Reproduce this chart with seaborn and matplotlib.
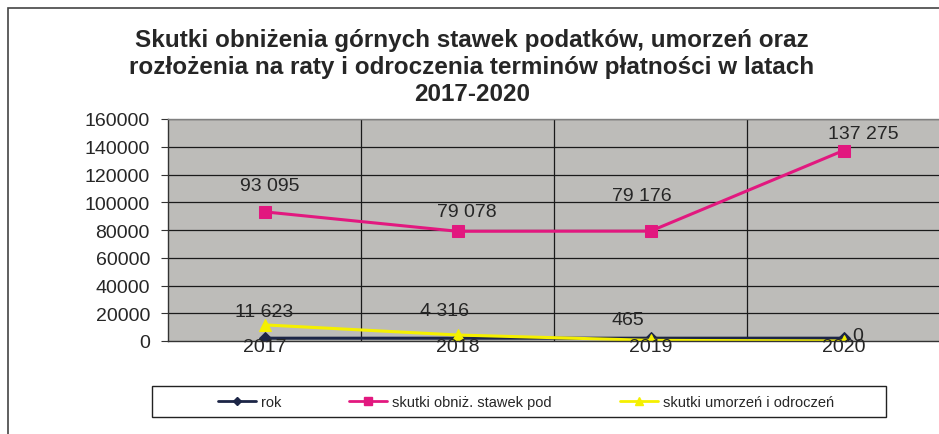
import numpy as np
import pandas as pd
import matplotlib
matplotlib.use("Agg")
import matplotlib.pyplot as plt
from matplotlib.lines import Line2D
from matplotlib.patches import Rectangle
import seaborn as sns

# --- dane ---
lata = [2017, 2018, 2019, 2020]
rok = [2017, 2018, 2019, 2020]
obnizenie = [93095, 79078, 79176, 137275]
umorzenia = [11623, 4316, 465, 0]

serie = ["rok", "skutki obniż. stawek pod", "skutki umorzeń i odroczeń"]
kolory = ["#1c2546", "#e2187f", "#f5f000"]
markery = ["D", "s", "^"]

df = pd.DataFrame({
    "rok_x": lata * 3,
    "wartosc": rok + obnizenie + umorzenia,
    "seria": [serie[0]] * 4 + [serie[1]] * 4 + [serie[2]] * 4,
})


def fmt(v):
    return f"{v:,}".replace(",", " ")


sns.set_style("white")
plt.rcParams["font.family"] = ["Liberation Sans", "DejaVu Sans"]

fig = plt.figure(figsize=(9.39, 4.35), dpi=100)
ax = fig.add_axes([168 / 939, 1 - 342 / 435, 772 / 939, 222 / 435])
ax.set_facecolor("#bdbcb9")

for s, c, m, ms in zip(serie, kolory, markery, [6, 9, 9]):
    sub = df[df["seria"] == s]
    sns.lineplot(data=sub, x="rok_x", y="wartosc", ax=ax, color=c, marker=m,
                 markersize=ms, markeredgecolor=c, linewidth=2.2, legend=False)

ax.set_xlim(2016.5, 2020.5)
ax.set_ylim(0, 160000)
ax.set_yticks(np.arange(0, 160001, 20000))
ax.set_xticks([])
ax.set_xlabel("")
ax.set_ylabel("")
ax.tick_params(axis="y", labelsize=14, length=5, width=0.8, color="#333333", pad=8, left=True)
for y in np.arange(20000, 160001, 20000):
    ax.axhline(y, color="#1a1a1a", lw=0.9, zorder=0.5)
for x in [2017.5, 2018.5, 2019.5]:
    ax.axvline(x, color="#1a1a1a", lw=0.9, zorder=0.5)
for sp in ax.spines.values():
    sp.set_visible(True)
    sp.set_color("#808080")
    sp.set_linewidth(1)
ax.spines["left"].set_color("#333333")
ax.spines["bottom"].set_color("#333333")

# etykiety danych (przesunięcia w punktach)
off_obn = [(3.5, 19), (7, 14.5), (-6, 26), (14, 12)]
for x, v, (dx, dy) in zip(lata, obnizenie, off_obn):
    ax.annotate(fmt(v), (x, v), xytext=(dx, dy), textcoords="offset points",
                ha="center", va="center", fontsize=14)
off_um = [(0, 9.5), (-9, 18), (-16.5, 15), (10, 3.6)]
for x, v, (dx, dy) in zip(lata, umorzenia, off_um):
    ax.annotate(fmt(v), (x, v), xytext=(dx, dy), textcoords="offset points",
                ha="center", va="center", fontsize=14)
for x, v in zip(lata, rok):
    ax.annotate(str(v), (x, v), xytext=(0, -6), textcoords="offset points",
                ha="center", va="center", fontsize=14, annotation_clip=False)

fig.text(472 / 939, 1 - 67.5 / 435,
         "Skutki obniżenia górnych stawek podatków, umorzeń oraz\n"
         "rozłożenia na raty i odroczenia terminów płatności w latach\n2017-2020",
         ha="center", va="center", fontsize=17.5, fontweight="bold", linespacing=1.23)

# ramka wykresu
fig.add_artist(Rectangle((8 / 939, -0.05), 1.1, 1 - 9 / 435 + 0.05,
                         transform=fig.transFigure, fill=False, ec="#444444", lw=1.2))

# legenda
fig.add_artist(Rectangle((152 / 939, 1 - 418 / 435), 734 / 939, 31 / 435,
                         transform=fig.transFigure, fill=False, ec="#222222", lw=1))
handles = [Line2D([0], [0], color=c, marker=m, markersize=ms, lw=2, markeredgecolor=c)
           for c, m, ms in zip(kolory, markery, [4, 6, 6])]
for h, s, xp in zip(handles, serie, [218, 349, 620]):
    fig.legend([h], [s], loc="center left", bbox_to_anchor=(xp / 939, 1 - 403 / 435),
               frameon=False, borderpad=0, borderaxespad=0, handlelength=2.6,
               handletextpad=0.35, fontsize=10.5)

fig.savefig("out.png", dpi=100)
